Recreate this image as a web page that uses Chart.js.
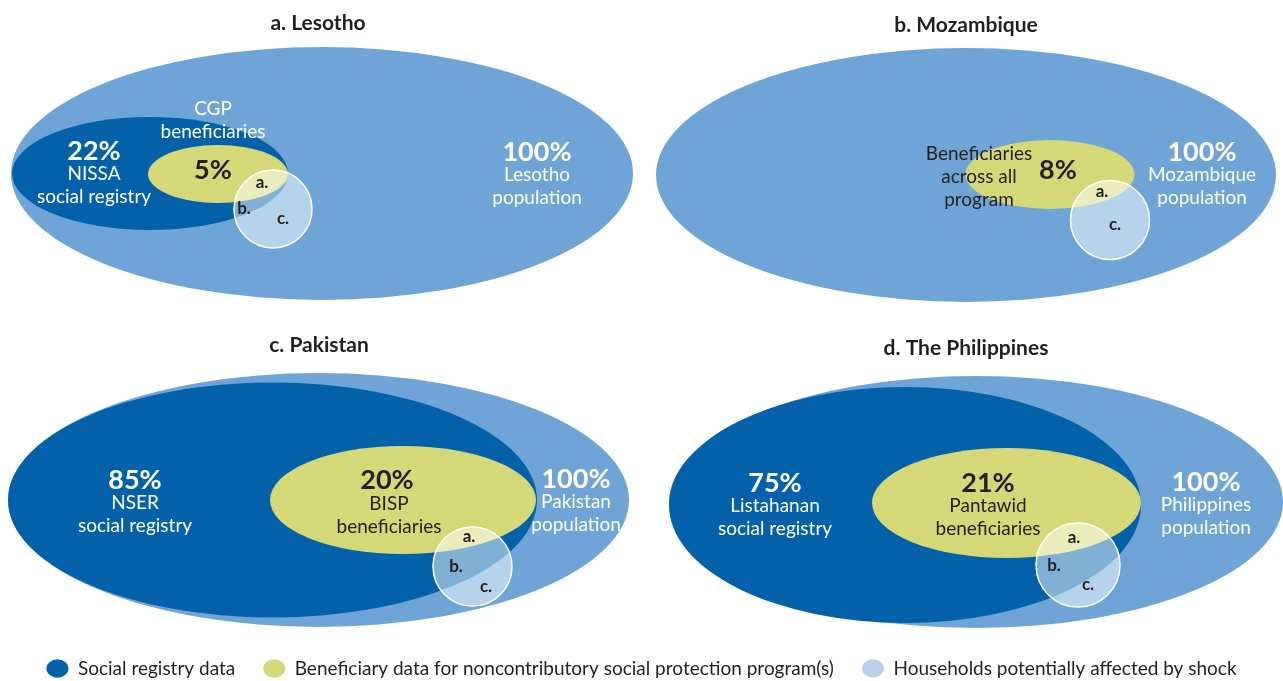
<!DOCTYPE html>
<html><head><meta charset="utf-8">
<script src="https://cdn.jsdelivr.net/npm/chart.js@4.4.1/dist/chart.umd.min.js"></script>
<style>
html,body{margin:0;padding:0;background:#fff;overflow:hidden}
#wrap{position:relative;width:1283px;height:681px;overflow:hidden}
#main{position:absolute;left:0;top:0}
#leg{position:absolute;left:0;top:631px}
</style></head><body>
<div id="wrap"><canvas id="main" width="1283" height="681"></canvas><canvas id="leg" width="1283" height="180"></canvas></div>
<script>
// ---- data ----
const panelTitles = ['a. Lesotho', 'b. Mozambique', 'c. Pakistan', 'd. The Philippines'];
const registryShare = [22, null, 85, 75];
const beneficiaryShare = [5, 8, 20, 21];
const populationShare = [100, 100, 100, 100];
const registryNames = [['NISSA', 'social registry'], null, ['NSER', 'social registry'], ['Listahanan', 'social registry']];
const beneficiaryNames = [['CGP', 'beneficiaries'], ['Beneficiaries', 'across all', 'program'], ['BISP', 'beneficiaries'], ['Pantawid', 'beneficiaries']];
const populationNames = [['Lesotho', 'population'], ['Mozambique', 'population'], ['Pakistan', 'population'], ['Philippines', 'population']];
const overlapTags = [['a.', 'b.', 'c.'], ['a.', 'c.'], ['a.', 'b.', 'c.'], ['a.', 'b.', 'c.']];
const legendLabels = ['Social registry data', 'Beneficiary data for noncontributory social protection program(s)', 'Households potentially affected by shock'];

// ---- layout (diagram geometry, in scale units) ----
const LAYOUT = {
  pop:   [[322,173.5,311,126.5],[966,175,310,127],[318.5,500,310.5,127],[976,502,307,126]],
  reg:   [[150,173.5,138,56.5], null, [272.5,500,264.5,117.5],[905,505,236,118]],
  ben:   [[218,174,70,29],[1050,174.5,84.5,34.5],[403,500,133,54],[1006.5,503,134.5,55]],
  shock: [[273,209,39,39],[1110,220,39.5,39.5],[472.5,566.5,39.5,39.5],[1078,565,42,42]],
  title: [[318,23],[966,25],[319,345],[966,348]],
  regText: [[94,151], null, [135,480], [775,483]],
  benPct: [[213,170],[1058,170],[387,480],[988,483]],
  benName: [[213,109],[979,154],[389,504],[988,506]],
  benNameColor: ['#ffffff','#231f20','#231f20','#231f20'],
  popText: [[537,152],[1202,152],[576,479],[1206,482]],
  tags: [[[262,183],[244,209],[283,219]], [[1102,192],[1115,225]], [[469,537],[456,567],[486,587]], [[1074,538],[1054,566],[1088,585]]],
  lineGap: 23
};
const COLORS = { pop:'#6fa5d6', reg:'#0361aa', ben:'#d4d877', shock:'rgba(255,255,255,0.5)', shockLegend:'#b8d1ea', dark:'#231f20' };
const FONT = 'Lato';

function toPoints(arr){ return arr.map(s => s ? {x:s[0], y:s[1], rx:s[2], ry:s[3]} : null).filter(Boolean); }

const ellipsePlugin = {
  id: 'ellipses',
  beforeDatasetsDraw(chart){
    const ctx = chart.ctx, xs = chart.scales.x, ys = chart.scales.y;
    chart.data.datasets.forEach(ds => {
      ds.data.forEach(p => {
        const px = xs.getPixelForValue(p.x), py = ys.getPixelForValue(p.y);
        const rx = Math.abs(xs.getPixelForValue(p.x + p.rx) - px);
        const ry = Math.abs(ys.getPixelForValue(p.y + p.ry) - py);
        ctx.save();
        ctx.beginPath();
        ctx.ellipse(px, py, rx, ry, 0, 0, Math.PI * 2);
        ctx.fillStyle = ds.backgroundColor;
        ctx.fill();
        if (ds.outlineWidth) { ctx.lineWidth = ds.outlineWidth; ctx.strokeStyle = ds.outlineColor; ctx.stroke(); }
        ctx.restore();
      });
    });
  }
};

const labelPlugin = {
  id: 'labels',
  afterDatasetsDraw(chart){
    const ctx = chart.ctx, xs = chart.scales.x, ys = chart.scales.y;
    const X = v => xs.getPixelForValue(v), Y = v => ys.getPixelForValue(v);
    function txt(s, pos, dy, font, color){
      ctx.font = font; ctx.fillStyle = color;
      ctx.textAlign = 'center'; ctx.textBaseline = 'middle';
      ctx.fillText(s, X(pos[0]), Y(pos[1] + dy));
    }
    const G = LAYOUT.lineGap;
    const bold = `bold 27px ${FONT}`, norm = `19px ${FONT}`;
    panelTitles.forEach((t, i) => {
      txt(t, LAYOUT.title[i], 0, `bold 21px ${FONT}`, COLORS.dark);
      if (registryShare[i] != null) {
        txt(registryShare[i] + '%', LAYOUT.regText[i], 0, bold, '#ffffff');
        registryNames[i].forEach((n, k) => txt(n, LAYOUT.regText[i], G * (k + 1), norm, '#ffffff'));
      }
      txt(beneficiaryShare[i] + '%', LAYOUT.benPct[i], 0, bold, COLORS.dark);
      beneficiaryNames[i].forEach((n, k) => txt(n, LAYOUT.benName[i], G * k, norm, LAYOUT.benNameColor[i]));
      txt(populationShare[i] + '%', LAYOUT.popText[i], 0, bold, '#ffffff');
      populationNames[i].forEach((n, k) => txt(n, LAYOUT.popText[i], G * (k + 1), norm, '#ffffff'));
      overlapTags[i].forEach((tg, k) => txt(tg, LAYOUT.tags[i][k], 0, `bold 17px ${FONT}`, COLORS.dark));
    });
  }
};

new Chart(document.getElementById('main'), {
  type: 'scatter',
  data: { datasets: [
    { label: 'Population', data: toPoints(LAYOUT.pop), backgroundColor: COLORS.pop },
    { label: 'Social registry data', data: toPoints(LAYOUT.reg), backgroundColor: COLORS.reg },
    { label: 'Beneficiary data', data: toPoints(LAYOUT.ben), backgroundColor: COLORS.ben },
    { label: 'Households potentially affected by shock', data: toPoints(LAYOUT.shock), backgroundColor: COLORS.shock, outlineWidth: 1.5, outlineColor: '#ffffff' }
  ]},
  options: {
    responsive: false, animation: false, events: [],
    layout: { padding: 0 },
    elements: { point: { radius: 0, hoverRadius: 0 } },
    scales: {
      x: { type: 'linear', min: 0, max: 1283, display: false },
      y: { type: 'linear', min: 0, max: 681, reverse: true, display: false }
    },
    plugins: { legend: { display: false }, tooltip: { enabled: false }, title: { display: false } }
  },
  plugins: [ellipsePlugin, labelPlugin]
});

const legColors = [COLORS.reg, COLORS.ben, COLORS.shockLegend];
new Chart(document.getElementById('leg'), {
  type: 'scatter',
  data: { datasets: legendLabels.map((l, i) => ({ label: l, data: [], backgroundColor: legColors[i], borderColor: legColors[i], borderWidth: 0, pointStyle: 'circle' })) },
  options: {
    responsive: false, animation: false, events: [],
    scales: { x: { display: false }, y: { display: false } },
    plugins: {
      tooltip: { enabled: false },
      legend: { position: 'top', labels: { usePointStyle: true, pointStyle: 'circle', pointStyleWidth: 22, boxHeight: 13, padding: 28, color: COLORS.dark, font: { family: FONT, size: 19 } } }
    }
  }
});
</script></body></html>
